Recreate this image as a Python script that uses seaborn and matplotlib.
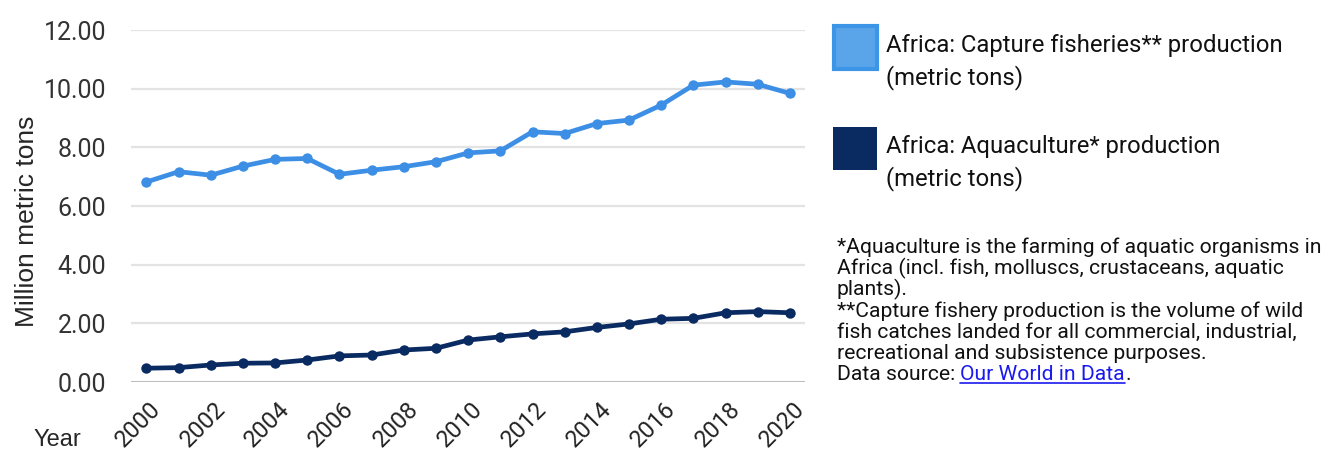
import numpy as np
import pandas as pd
import matplotlib
matplotlib.use("Agg")
import matplotlib.pyplot as plt
import matplotlib.transforms as mtransforms
from matplotlib.patches import Rectangle
from matplotlib.lines import Line2D
import seaborn as sns

# Africa fish production, million metric tons
years = list(range(2000, 2021))
capture = [6.82, 7.17, 7.05, 7.36, 7.59, 7.62, 7.08, 7.22, 7.34, 7.51, 7.81,
           7.88, 8.53, 8.47, 8.81, 8.93, 9.44, 10.12, 10.23, 10.15, 9.84]
aquaculture = [0.47, 0.49, 0.58, 0.64, 0.65, 0.75, 0.89, 0.92, 1.09, 1.15, 1.43,
               1.54, 1.64, 1.71, 1.86, 1.98, 2.14, 2.17, 2.36, 2.40, 2.36]
series_names = ["Africa: Capture fisheries** production\n(metric tons)",
                "Africa: Aquaculture* production\n(metric tons)"]
colors = ["#3d8fe6", "#0a2a62"]
yticks = [0, 2, 4, 6, 8, 10, 12]
xticks = list(range(2000, 2021, 2))

footnote = ["*Aquaculture is the farming of aquatic organisms in",
            "Africa (incl. fish, molluscs, crustaceans, aquatic",
            "plants).",
            "**Capture fishery production is the volume of wild",
            "fish catches landed for all commercial, industrial,",
            "recreational and subsistence purposes."]

df = pd.DataFrame({
    "Year": years * 2,
    "value": capture + aquaculture,
    "series": [series_names[0]] * len(years) + [series_names[1]] * len(years),
})

sns.set_style("white")
plt.rcParams["font.family"] = ["Roboto", "DejaVu Sans"]

W, H = 1329, 455
fig = plt.figure(figsize=(W / 100, H / 100), dpi=100)
ax = fig.add_axes([131 / W, 1 - 382 / H, (805 - 131) / W, (382 - 30) / H])

sns.lineplot(data=df, x="Year", y="value", hue="series", palette=colors,
             marker="o", markersize=7.5, markeredgewidth=0, linewidth=3.4,
             legend=False, ax=ax, zorder=3)

ax.set_xlim(1999.52, 2020.47)
ax.set_ylim(0, 12)
ax.set_yticks(yticks)
ax.set_yticklabels([f"{v:.2f}" for v in yticks], fontsize=18, color="#333333")
ax.set_xticks(xticks)
ax.set_xticklabels([str(x) for x in xticks], fontsize=17, color="#222222",
                   rotation=45, ha="right", va="center", rotation_mode="anchor")
ax.tick_params(axis="y", length=0, pad=18)
ax.tick_params(axis="x", length=0, pad=17)
# nudge rotated year labels right so they sit like the original
shift = mtransforms.ScaledTranslation(11 / 100, 0, fig.dpi_scale_trans)
for lab in ax.get_xticklabels():
    lab.set_transform(lab.get_transform() + shift)
for v in yticks:
    ax.axhline(v, color="#bdbdbd" if v == 0 else "#e3e3e3",
               lw=2.2 if v == 0 else 1.6, zorder=1)
for s in ax.spines.values():
    s.set_visible(False)
ax.set_xlabel("")
ax.set_ylabel("")

fig.text(15 / W, 1 - 221 / H, "Million metric tons", rotation=90, fontsize=19,
         family="Liberation Sans", ha="left", va="center")
fig.text(33 / W, 1 - 446 / H, "Year", fontsize=17, family="Liberation Sans",
         ha="left", va="baseline")

# legend
fig.add_artist(Rectangle((834 / W, 1 - 69 / H), 43 / W, 43 / H,
                         transform=fig.transFigure, facecolor="#5aa5ea",
                         edgecolor="#3d95e8", lw=3))
fig.add_artist(Rectangle((833 / W, 1 - 170 / H), 44 / W, 43 / H,
                         transform=fig.transFigure, facecolor=colors[1],
                         edgecolor="none"))
for (b1, b2), name in zip([(52, 84), (153, 185)], series_names):
    l1, l2 = name.split("\n")
    fig.text(886 / W, 1 - b1 / H, l1, fontsize=17.2, va="baseline", color="#111111")
    fig.text(886 / W, 1 - b2 / H, l2, fontsize=17.2, va="baseline", color="#111111")

fs = 15.2
for i, line in enumerate(footnote):
    fig.text(837 / W, 1 - (253 + i * 21.2) / H, line, fontsize=fs,
             va="baseline", color="#111111")

yb = 1 - 380 / H
t1 = fig.text(837 / W, yb, "Data source: ", fontsize=fs, va="baseline", color="#111111")
fig.canvas.draw()
r = fig.canvas.get_renderer()
x1 = t1.get_window_extent(r).x1 / W
t2 = fig.text(x1, yb, "Our World in Data", fontsize=fs, va="baseline", color="#1a1aee")
fig.canvas.draw()
e2 = t2.get_window_extent(r)
fig.text(e2.x1 / W, yb, ".", fontsize=fs, va="baseline", color="#111111")
fig.add_artist(Line2D([e2.x0 / W, e2.x1 / W], [yb - 3 / H, yb - 3 / H],
                      transform=fig.transFigure, color="#1a1aee", lw=1.2))

fig.savefig("out.png", dpi=100)
